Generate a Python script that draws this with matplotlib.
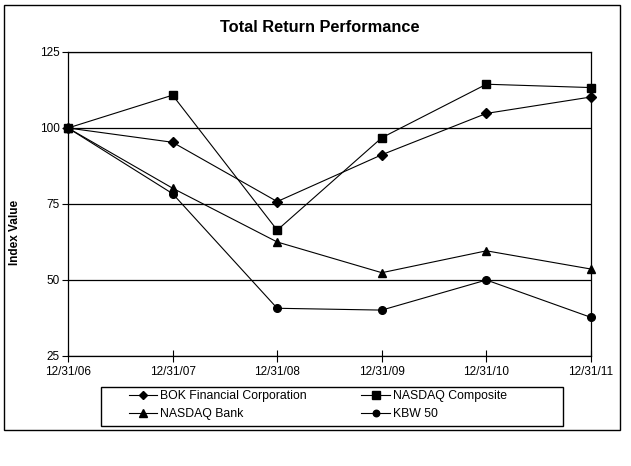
import matplotlib
matplotlib.use("Agg")
import matplotlib.pyplot as plt
from matplotlib.patches import Rectangle

plt.rcParams['font.family'] = ['Liberation Sans', 'DejaVu Sans']

# data
dates = ["12/31/06", "12/31/07", "12/31/08", "12/31/09", "12/31/10", "12/31/11"]
bok = [100, 95.3, 75.8, 91.2, 104.8, 110.2]
nasdaq_comp = [100, 110.8, 66.4, 96.8, 114.4, 113.3]
nasdaq_bank = [100, 80.2, 62.5, 52.4, 59.6, 53.6]
kbw50 = [100, 78.4, 40.7, 40.1, 50.0, 37.7]
yticks = [25, 50, 75, 100, 125]

W, H = 631, 466
fig = plt.figure(figsize=(W / 100, H / 100), dpi=100)
ax = fig.add_axes([68 / W, 1 - 356 / H, (591 - 68) / W, (356 - 52) / H])

x = range(len(dates))
lw = 0.8
ax.plot(x, bok, color="black", lw=lw, marker="D", ms=4.8, clip_on=False,
        label="BOK Financial Corporation", zorder=3)
ax.plot(x, nasdaq_comp, color="black", lw=lw, marker="s", ms=6, clip_on=False,
        label="NASDAQ Composite", zorder=3)
ax.plot(x, nasdaq_bank, color="black", lw=lw, marker="^", ms=6.2, clip_on=False,
        label="NASDAQ Bank", zorder=3)
ax.plot(x, kbw50, color="black", lw=lw, marker="o", ms=5.5, clip_on=False,
        label="KBW 50", zorder=3)

ax.set_xlim(0, len(dates) - 1)
ax.set_ylim(25, 125)
ax.set_yticks(yticks)
ax.set_xticks(list(x))
ax.set_xticklabels(dates)
ax.tick_params(axis="x", direction="inout", length=8, width=0.8, labelsize=8.5, pad=3)
ax.tick_params(axis="y", direction="out", length=4, width=0.8, labelsize=8.5, pad=2)
for s in ax.spines.values():
    s.set_linewidth(0.9)
ax.yaxis.grid(True, color="black", lw=0.9)
ax.set_axisbelow(True)

fig.text(320 / W, 1 - 28 / H, "Total Return Performance", ha="center", va="center",
         fontsize=11.8, fontweight="bold")
fig.text(15 / W, 1 - 232 / H, "Index Value", ha="center", va="center",
         rotation=90, fontsize=8.5, fontweight="bold")

# outer border and legend box
fig.add_artist(Rectangle((4 / W, 1 - 430 / H), (620 - 4) / W, (430 - 5) / H,
                         transform=fig.transFigure, fill=False, ec="black", lw=1))
fig.add_artist(Rectangle((101 / W, 1 - 426 / H), (563 - 101) / W, (426 - 387) / H,
                         transform=fig.transFigure, fill=False, ec="black", lw=1))

h, l = ax.get_legend_handles_labels()
order = [0, 2, 1, 3]
fig.legend([h[i] for i in order], [l[i] for i in order], ncol=2, frameon=False,
           loc="upper left", bbox_to_anchor=(125 / W, 1 - 386.5 / H),
           fontsize=8.8, handlelength=2.3, handletextpad=0.3, columnspacing=4.45,
           labelspacing=0.5, borderpad=0.3, borderaxespad=0, markerscale=0.85)

fig.savefig("out.png", dpi=100)
